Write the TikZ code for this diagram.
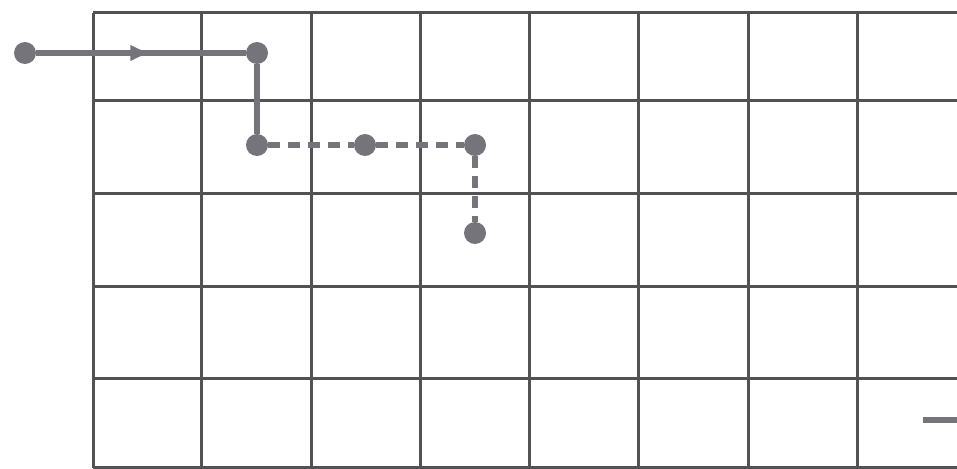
\documentclass[tikz,border=0pt]{standalone}
\usepackage{xcolor}
\usepackage{tikz}
\usetikzlibrary{arrows.meta, decorations.markings}
\definecolor{gridgray}{RGB}{82,82,84}
\definecolor{pathgray}{RGB}{116,116,122}
\tikzset{
    gridline/.style={line width=3pt, gridgray},
    dot/.style={circle, fill=pathgray, inner sep=0pt, minimum size=22pt},
    walk/.style={line width=5.5pt, pathgray},
    dashwalk/.style={walk, dash pattern=on 12pt off 8pt},
    midarrow/.style={postaction={decorate, decoration={markings,
        mark=at position 0.53 with {\arrow{Triangle[length=17pt, width=15pt]}}}}}
}

\begin{document}
\begin{tikzpicture}[x=1pt, y=-1pt]
    \useasboundingbox (0,0) rectangle (957,468);

    % Grid
    \foreach \gx in {93,201,311,420,529,638,748,857}
        \draw[gridline] (\gx,13) -- (\gx,468);
    \foreach \gy in {13,101,193,286,378,467}
        \draw[gridline] (93,\gy) -- (957,\gy);

    % Path points
    \node[dot] (start) at (25,53) {};
    \node[dot] (turn) at (257,53) {};
    \node[dot] (down) at (257,145) {};
    \node[dot] (mid) at (365,145) {};
    \node[dot] (corner) at (475,145) {};
    \node[dot] (last) at (475,233) {};

    % Solid part
    \draw[walk, midarrow] (start) -- (turn);
    \draw[walk] (turn) -- (down);

    % Dashed part
    \draw[dashwalk] (down) -- (mid);
    \draw[dashwalk] (mid) -- (corner);
    \draw[dashwalk] (corner) -- (last);

    % Stub at lower right
    \coordinate (stubL) at (923,420);
    \coordinate (stubR) at (957,420);
    \draw[walk, line width=6pt] (stubL) -- (stubR);
\end{tikzpicture}
\end{document}
